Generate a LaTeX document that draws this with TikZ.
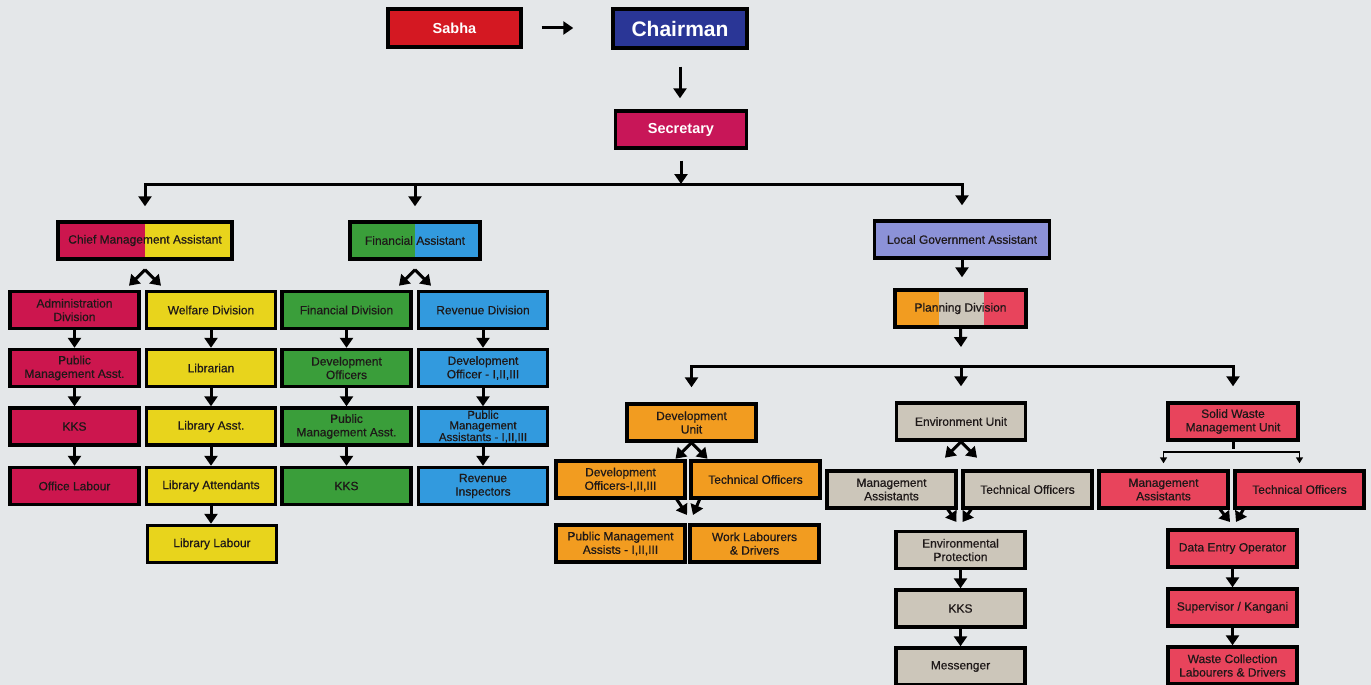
\documentclass[tikz,border=0pt]{standalone}
\usepackage{fontspec}
\setmainfont{Liberation Sans}
\newfontfamily\boxfont[FakeBold=0.5]{Liberation Sans}
\usetikzlibrary{arrows.meta,calc}

\definecolor{bgpaper}{RGB}{228,231,233}
\definecolor{sabhared}{RGB}{212,24,34}
\definecolor{chairblue}{RGB}{42,54,150}
\definecolor{secred}{RGB}{200,22,88}
\definecolor{admred}{RGB}{204,22,78}
\definecolor{welyellow}{RGB}{232,212,28}
\definecolor{fingreen}{RGB}{58,158,58}
\definecolor{revblue}{RGB}{50,154,222}
\definecolor{lgalilac}{RGB}{140,146,216}
\definecolor{devorange}{RGB}{242,156,32}
\definecolor{envgrey}{RGB}{204,198,186}
\definecolor{swpink}{RGB}{232,68,92}
\definecolor{boxtext}{RGB}{30,24,24}

% ^ shaped pair of arrows under a node
\newcommand{\splitarrows}[2]{%
  \coordinate (#1-fork) at ([yshift=-#2]#1.south);
  \coordinate (#1-forkl) at ([shift={(-16,16)}]#1-fork);
  \coordinate (#1-forkr) at ([shift={(16,16)}]#1-fork);
  \draw[arr] (#1-fork) -- (#1-forkl);
  \draw[arr] (#1-fork) -- (#1-forkr);
}
% two arrows meeting below a pair of boxes
\newcommand{\mergearrows}[3]{%
  \draw[arr] ([xshift=-11pt,yshift=2pt]#1.south east) -- ([xshift=-3pt]#3);
  \draw[arr] ([xshift=11pt,yshift=2pt]#2.south west) -- ([xshift=3pt]#3);
}

\begin{document}
\begin{tikzpicture}[x=1pt,y=-1pt,
  box/.style={draw=black, line width=3.4pt, minimum width=129pt, minimum height=37pt,
    inner sep=1pt, align=center, text=boxtext, font=\boxfont\fontsize{12}{13.5}\selectfont},
  headbox/.style={box, text=white, font=\bfseries\fontsize{14.5}{16}\selectfont},
  halves/.style 2 args={path picture={
    \fill[#1] (path picture bounding box.south west) rectangle (path picture bounding box.north);
    \fill[#2] (path picture bounding box.south) rectangle (path picture bounding box.north east);}},
  thirds/.style={path picture={
    \fill[devorange] (path picture bounding box.south west) rectangle ([xshift=44pt]path picture bounding box.north west);
    \fill[envgrey] ([xshift=44pt]path picture bounding box.south west) rectangle ([xshift=-42pt]path picture bounding box.north east);
    \fill[swpink] ([xshift=-42pt]path picture bounding box.south east) rectangle (path picture bounding box.north east);}},
  arr/.style={line width=3pt, -{Triangle[length=10pt,width=13pt]}},
  link/.style={line width=3pt, line cap=rect},
  thinlink/.style={line width=1.4pt, line cap=rect},
  thinarr/.style={line width=1.4pt, -{Triangle[length=6pt,width=7pt]}}]

\fill[bgpaper] (0,0) rectangle (1371,685);
\useasboundingbox (0,0) rectangle (1371,685);

% top
\node[headbox, fill=sabhared, minimum width=133pt, minimum height=38pt] (sabha) at (454.5,28) {Sabha};
\node[headbox, fill=chairblue, minimum width=134pt, minimum height=39pt,
  font=\bfseries\fontsize{21}{24}\selectfont] (chair) at (680,28.5) {Chairman};
\node[headbox, fill=secred, minimum width=131pt] (sec) at (681,129.5) {Secretary};
\draw[arr, shorten <=19pt, shorten >=38pt] (sabha.east) -- (sabha.east -| chair.west);
\draw[arr, shorten <=17pt, shorten >=11pt] (chair.south) -- (chair.south |- sec.north);

\coordinate (top-bus) at (681,184);
\draw[arr, shorten <=11pt] (sec.south) -- (top-bus);

\node[box, minimum width=174pt, halves={admred}{welyellow}] (cma) at (145,240.5) {Chief Management Assistant};
\node[box, minimum width=130pt, halves={fingreen}{revblue}] (fa) at (415,240.5) {Financial Assistant};
\node[box, minimum width=175pt, fill=lgalilac] (lga) at (962,239.5) {Local Government Assistant};
\draw[link] (cma.north |- top-bus) -- (lga.north |- top-bus);
\foreach \n in {cma,fa,lga}
  \draw[arr, shorten >=14pt] (\n.north |- top-bus) -- (\n.north);

% left side
\node[box, fill=admred] (adm) at (74.5,310) {Administration\\Division};
\node[box, fill=welyellow] (wel) at (211,310) {Welfare Division};
\node[box, fill=fingreen] (fdiv) at (346.5,310) {Financial Division};
\node[box, fill=revblue] (rdiv) at (483,310) {Revenue Division};

\node[box, fill=admred] (pma1) at (74.5,368) {Public\\Management Asst.};
\node[box, fill=welyellow] (lib) at (211,368) {Librarian};
\node[box, fill=fingreen] (devo) at (346.5,368) {Development\\Officers};
\node[box, fill=revblue] (devo2) at (483,368) {Development\\Officer - I,II,III};

\node[box, fill=admred] (kks1) at (74.5,426.5) {KKS};
\node[box, fill=welyellow] (liba) at (211,426.5) {Library Asst.};
\node[box, fill=fingreen] (pma2) at (346.5,426.5) {Public\\Management Asst.};
\node[box, fill=revblue, font=\boxfont\fontsize{11.5}{10.5}\selectfont] (pma3) at (483,426.5) {Public\\Management\\Assistants - I,II,III};

\node[box, fill=admred] (olab) at (74.5,486) {Office Labour};
\node[box, fill=welyellow] (libat) at (211,486) {Library Attendants};
\node[box, fill=fingreen] (kks2) at (346.5,486) {KKS};
\node[box, fill=revblue] (revi) at (483,486) {Revenue\\Inspectors};

\node[box, fill=welyellow] (libl) at (212,544) {Library Labour};

\splitarrows{cma}{9pt}
\splitarrows{fa}{9pt}
\foreach \a/\b in {adm/pma1, pma1/kks1, kks1/olab, wel/lib, lib/liba, liba/libat, libat/libl,
  fdiv/devo, devo/pma2, pma2/kks2, rdiv/devo2, devo2/pma3, pma3/revi}
  \draw[arr] (\a.south) -- (\a.south |- \b.north);

% right side
\node[box, minimum width=131pt, thirds] (plan) at (960.5,308.5) {Planning Division};
\draw[arr, shorten >=11pt] (lga.south) -- (lga.south |- plan.north);
\coordinate (plan-bus) at (961,366);
\draw[arr] (plan.south) -- ([yshift=19pt]plan-bus);

\node[box, fill=devorange] (devu) at (691.5,422.5) {Development\\Unit};
\node[box, fill=envgrey] (envu) at (961,421.5) {Environment Unit};
\node[box, fill=swpink, minimum width=130pt] (swu) at (1233,421.5) {Solid Waste\\Management Unit};
\draw[link] (devu.north |- plan-bus) -- (swu.north |- plan-bus);
\foreach \n in {devu,envu,swu}
  \draw[arr, shorten >=15pt] (\n.north |- plan-bus) -- (\n.north);

\node[box, fill=devorange] (devoff) at (620.5,479.5) {Development\\Officers-I,II,III};
\node[box, fill=devorange] (devto) at (755.5,479.5) {Technical Officers};
\node[box, fill=devorange] (devpma) at (620.5,543.5) {Public Management\\Assists - I,II,III};
\node[box, fill=devorange] (devwl) at (754.5,543.5) {Work Labourers\\\& Drivers};
\splitarrows{devu}{0pt}
\coordinate (dev-merge) at (690,515);
\mergearrows{devoff}{devto}{dev-merge}

\node[box, fill=envgrey] (envma) at (891.5,489.5) {Management\\Assistants};
\node[box, fill=envgrey] (envto) at (1027.5,489.5) {Technical Officers};
\node[box, fill=envgrey] (envp) at (960.5,550) {Environmental\\Protection};
\node[box, fill=envgrey] (envkks) at (960.5,608.5) {KKS};
\node[box, fill=envgrey] (mess) at (960.5,666.5) {Messenger};
\splitarrows{envu}{0pt}
\coordinate (env-merge) at (959.5,522);
\mergearrows{envma}{envto}{env-merge}

\node[box, fill=swpink] (swma) at (1163.5,489.5) {Management\\Assistants};
\node[box, fill=swpink] (swto) at (1299.5,489.5) {Technical Officers};
\node[box, fill=swpink] (deo) at (1232.5,548.5) {Data Entry Operator};
\node[box, fill=swpink] (sup) at (1232.5,607.5) {Supervisor / Kangani};
\node[box, fill=swpink] (wcl) at (1232.5,665.5) {Waste Collection\\Labourers \& Drivers};
\coordinate (sw-fork) at (1233,452);
\draw[line width=3pt] (swu.south) -- ([yshift=3pt]sw-fork);
\draw[thinlink] (swma.north |- sw-fork) -- (swto.north |- sw-fork);
\foreach \n in {swma,swto}
  \draw[thinarr, shorten >=6pt] (\n.north |- sw-fork) -- (\n.north);
\coordinate (sw-merge) at (1233,522);
\mergearrows{swma}{swto}{sw-merge}

\foreach \a/\b in {envp/envkks, envkks/mess, deo/sup, sup/wcl}
  \draw[arr] (\a.south) -- (\a.south |- \b.north);
\end{tikzpicture}
\end{document}
